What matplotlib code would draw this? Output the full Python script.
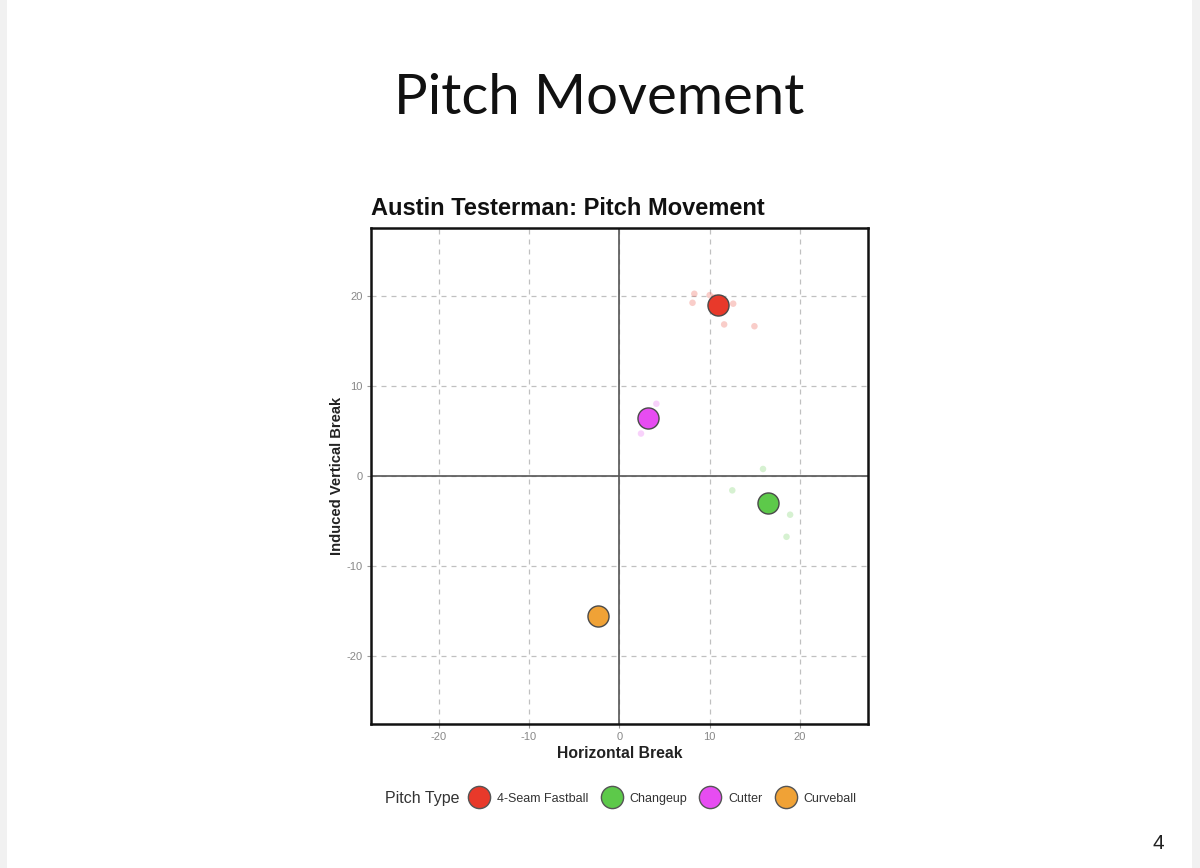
import matplotlib
matplotlib.use("Agg")
import matplotlib.pyplot as plt
from matplotlib.lines import Line2D
from matplotlib.patches import Rectangle

plt.rcParams["axes.unicode_minus"] = False

# ---- data ----
pitch_types = ["4-Seam Fastball", "Changeup", "Cutter", "Curveball"]
colors = ["#E8392A", "#5DC94A", "#E74CF2", "#F0A236"]
mean_hb = [10.9, 16.4, 3.2, -2.4]
mean_ivb = [18.95, -3.0, 6.4, -15.5]

fb_hb = [8.3, 8.1, 10.0, 12.6, 11.6, 14.95, 10.5]
fb_ivb = [20.2, 19.2, 20.05, 19.1, 16.8, 16.6, 19.8]
ch_hb = [15.9, 12.5, 18.9, 18.5]
ch_ivb = [0.77, -1.6, -4.3, -6.75]
ct_hb = [4.1, 2.4]
ct_ivb = [8.0, 4.7]
cb_hb = [-2.4]
cb_ivb = [-15.5]

ticks = [-20, -10, 0, 10, 20]
lim = 27.5

fig = plt.figure(figsize=(12, 8.68), dpi=100)
fig.patch.set_facecolor("white")

# slide edges
fig.add_artist(Rectangle((0, 0), 0.006, 1, transform=fig.transFigure,
                         facecolor="#f1f1f1", edgecolor="none"))
fig.add_artist(Rectangle((0.993, 0), 0.007, 1, transform=fig.transFigure,
                         facecolor="#f1f1f1", edgecolor="none"))

fig.text(0.499, 0.887, "Pitch Movement", ha="center", va="center",
         fontsize=40.5, family="Lato", color="#111111")
fig.text(0.965, 0.017, "4", ha="center", va="bottom", fontsize=15,
         family="Liberation Sans", color="#222222")

ax = fig.add_axes([0.309, 0.166, 0.4142, 0.5714])
ax.set_xlim(-lim, lim)
ax.set_ylim(-lim, lim)
ax.set_xticks(ticks)
ax.set_yticks(ticks)
ax.grid(True, linestyle=(0, (4, 4)), color="#c0c0c0", linewidth=0.9)
ax.set_axisbelow(True)
ax.axhline(0, color="#555555", linewidth=1.2, zorder=1)
ax.axvline(0, color="#555555", linewidth=1.2, zorder=1)
for s in ax.spines.values():
    s.set_linewidth(1.8)
    s.set_color("#111111")
ax.tick_params(length=3, width=0.8, color="#999999", labelsize=8,
               labelcolor="#888888", pad=3)
for lab in ax.get_xticklabels() + ax.get_yticklabels():
    lab.set_family("Liberation Sans")

groups = [(fb_hb, fb_ivb), (ch_hb, ch_ivb), (ct_hb, ct_ivb), (cb_hb, cb_ivb)]
for (hx, vy), c in zip(groups, colors):
    ax.scatter(hx, vy, s=22, color=c, alpha=0.25, edgecolors="none", zorder=3)
for hx, vy, c in zip(mean_hb, mean_ivb, colors):
    ax.scatter([hx], [vy], s=230, color=c, edgecolors="#4a4a4a",
               linewidths=1.0, zorder=4)

ax.set_xlabel("Horizontal Break", fontsize=11.3, fontweight="bold",
              family="Liberation Sans", color="#222222", labelpad=3)
ax.set_ylabel("Induced Vertical Break", fontsize=10.6, fontweight="bold",
              family="Liberation Sans", color="#222222", labelpad=2)
ax.set_title("Austin Testerman: Pitch Movement", loc="left", fontsize=17,
             fontweight="bold", family="Liberation Sans", color="#111111",
             pad=9)

fig.text(0.321, 0.080, "Pitch Type", ha="left", va="center", fontsize=11.5,
         family="Liberation Sans", color="#333333")
handles = [Line2D([], [], marker="o", linestyle="none", markersize=16,
                  markerfacecolor=c, markeredgecolor="#555555",
                  markeredgewidth=1.0) for c in colors]
leg = fig.legend(handles, pitch_types, loc="center left",
                 bbox_to_anchor=(0.391, 0.080), ncol=4, frameon=False,
                 handletextpad=0.64, columnspacing=1.04, handlelength=1.6,
                 borderpad=0, borderaxespad=0,
                 prop={"family": "Liberation Sans", "size": 9})
for t in leg.get_texts():
    t.set_color("#333333")

fig.savefig("out.png", dpi=100, facecolor="white")
